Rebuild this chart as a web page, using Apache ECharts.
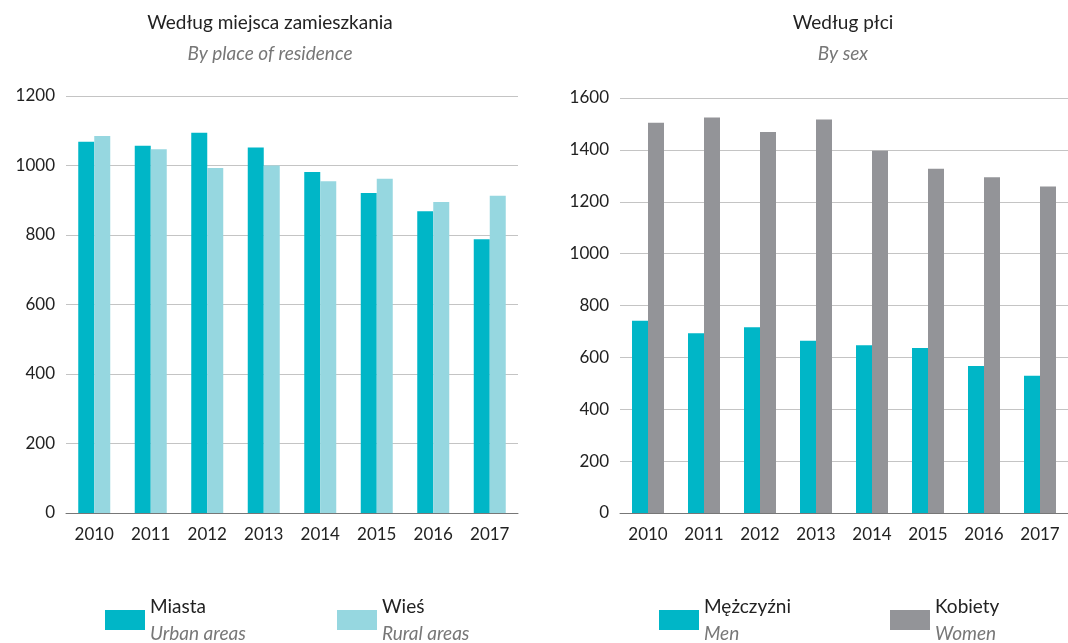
<!DOCTYPE html>
<html>
<head>
<meta charset="utf-8">
<script src="https://cdn.jsdelivr.net/npm/echarts@6/dist/echarts.min.js"></script>
<style>
  html, body { margin: 0; padding: 0; background: #fff; }
  #chart { width: 1068px; height: 643px; }
</style>
</head>
<body>
<div id="chart"></div>
<script>
// dane
const years = ['2010', '2011', '2012', '2013', '2014', '2015', '2016', '2017']
const miasta = [1068, 1057, 1094, 1052, 981, 921, 868, 788]
const wies = [1085, 1047, 993, 1000, 955, 962, 895, 913]
const mezczyzni = [741, 693, 716, 664, 647, 636, 567, 529]
const kobiety = [1505, 1525, 1469, 1517, 1397, 1327, 1294, 1259]

const FONT = 'Lato'
const TEAL = '#00b6c7'
const LIGHT = '#96d7e0'
const GREY = '#939498'

const chart = echarts.init(document.getElementById('chart'))

function legendItem (name, sub, left) {
  return {
    data: [name],
    left: left,
    top: 592,
    icon: 'rect',
    itemWidth: 40,
    itemHeight: 20,
    itemGap: 0,
    selectedMode: false,
    formatter: n => '{a|' + n + '}\n{b|' + sub + '}',
    textStyle: {
      rich: {
        a: { fontFamily: FONT, fontSize: 19, color: '#222', lineHeight: 27 },
        b: { fontFamily: FONT, fontSize: 19, color: '#777', fontStyle: 'italic', lineHeight: 27 }
      }
    }
  }
}

function xAx (idx) {
  return {
    type: 'category',
    gridIndex: idx,
    data: years,
    axisTick: { show: false },
    axisLine: { lineStyle: { color: '#777', width: 1 } },
    axisLabel: { fontFamily: FONT, fontSize: 17, color: '#222', margin: 13 }
  }
}

function yAx (idx, max) {
  return {
    type: 'value',
    gridIndex: idx,
    min: 0,
    max: max,
    interval: 200,
    axisLine: { show: false },
    axisTick: { show: false },
    splitLine: { lineStyle: { color: '#c4c4c4', width: 1 } },
    axisLabel: { fontFamily: FONT, fontSize: 17, color: '#222', margin: 11, formatter: v => String(v) }
  }
}

chart.setOption({
  animation: false,
  title: [
    {
      text: 'Według miejsca zamieszkania',
      subtext: 'By place of residence',
      left: 265,
      top: 8,
      textAlign: 'center',
      itemGap: 12,
      textStyle: { fontFamily: FONT, fontSize: 19, fontWeight: 'normal', color: '#222' },
      subtextStyle: { fontFamily: FONT, fontSize: 19, fontStyle: 'italic', color: '#777' }
    },
    {
      text: 'Według płci',
      subtext: 'By sex',
      left: 838,
      top: 8,
      textAlign: 'center',
      itemGap: 12,
      textStyle: { fontFamily: FONT, fontSize: 19, fontWeight: 'normal', color: '#222' },
      subtextStyle: { fontFamily: FONT, fontSize: 19, fontStyle: 'italic', color: '#777' }
    }
  ],
  legend: [
    legendItem('Miasta', 'Urban areas', 100),
    legendItem('Wieś', 'Rural areas', 332),
    legendItem('Mężczyźni', 'Men', 654),
    legendItem('Kobiety', 'Women', 885)
  ],
  grid: [
    { left: 66, top: 96, width: 452, height: 417 },
    { left: 620, top: 98, width: 448, height: 415 }
  ],
  xAxis: [xAx(0), xAx(1)],
  yAxis: [yAx(0, 1200), yAx(1, 1600)],
  series: [
    { name: 'Miasta', type: 'bar', xAxisIndex: 0, yAxisIndex: 0, data: miasta, barWidth: 16, barGap: '0%', itemStyle: { color: TEAL } },
    { name: 'Wieś', type: 'bar', xAxisIndex: 0, yAxisIndex: 0, data: wies, barWidth: 16, barGap: '0%', itemStyle: { color: LIGHT } },
    { name: 'Mężczyźni', type: 'bar', xAxisIndex: 1, yAxisIndex: 1, data: mezczyzni, barWidth: 16, barGap: '0%', itemStyle: { color: TEAL } },
    { name: 'Kobiety', type: 'bar', xAxisIndex: 1, yAxisIndex: 1, data: kobiety, barWidth: 16, barGap: '0%', itemStyle: { color: GREY } }
  ]
})
</script>
</body>
</html>
